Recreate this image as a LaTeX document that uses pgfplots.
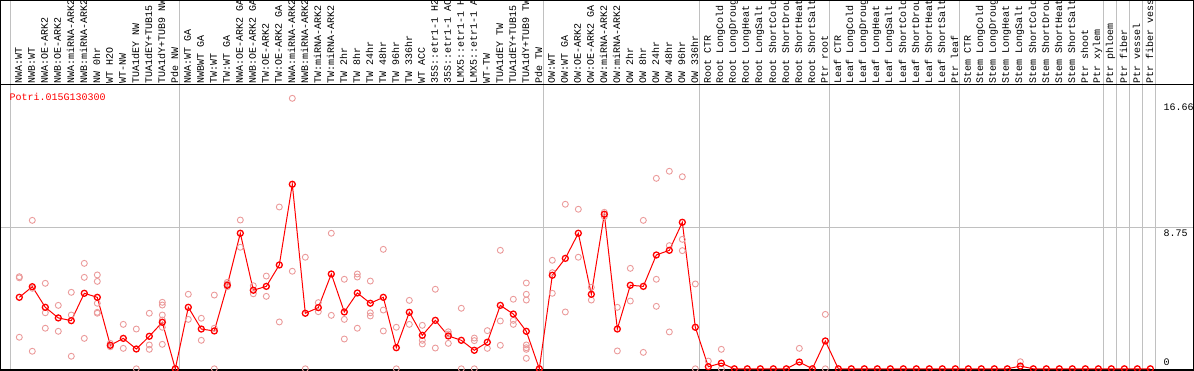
\documentclass[border=0pt]{standalone}
\usepackage{pgfplots}
\pgfplotsset{compat=1.18}
\usepackage{fontspec}
\setmainfont{Liberation Mono}
\definecolor{rep}{RGB}{235,155,155}
\definecolor{gridc}{RGB}{192,192,192}
\begin{document}
\fontsize{10pt}{12pt}\selectfont
\begin{tikzpicture}
\begin{axis}[
  at={(0,0)}, anchor=south west,
  scale only axis, width=1194pt, height=370pt,
  xmin=-0.4846, xmax=91.358, ymin=-0.0745, ymax=22.907,
  xtick={0.35,13.35,41.35,53.35,63.35,73.35,84.38,85.41,86.41,87.41,88.41},
  xticklabels={}, ytick={8.75}, yticklabels={},
  major tick length=0pt,
  xmajorgrids, ymajorgrids,
  major grid style={gridc, line width=1pt},
  axis line style={line width=2pt},
  clip=true,
]
% replicate samples
\addplot[only marks, mark=o, mark size=3pt, rep, mark options={line width=0.9pt}] coordinates {
(1,5.72)(1,5.65)(1,1.96)
(2,9.22)(2,1.09)(2,5.0)
(3,5.31)(3,3.48)(3,2.52)
(4,3.94)(4,2.33)
(5,4.75)(5,3.34)(5,0.78)
(6,6.55)(6,5.68)(6,1.89)
(7,5.83)(7,5.43)(7,4.07)(7,3.51)(7,3.45)
(8,1.58)(8,1.37)
(9,2.76)(9,1.27)
(10,2.47)(10,0)
(11,3.45)(11,1.48)(11,1.21)
(12,4.13)(12,3.96)(12,3.34)(12,3.03)(12,2.58)(12,1.52)
(13,0)
(14,4.63)(14,3.07)
(15,3.14)(15,1.77)
(16,4.58)(16,2.52)(16,0)
(17,5.37)(17,5.27)(17,5.10)
(18,9.24)(18,7.55)
(19,5.16)(19,4.66)
(20,5.76)(20,4.50)
(21,10.05)(21,2.91)
(22,16.80)(22,6.06)
(23,6.93)(23,0)
(24,4.11)(24,3.55)
(25,8.42)(25,3.32)
(26,5.56)(26,3.07)(26,1.85)
(27,5.89)(27,5.70)(27,2.52)
(28,5.45)(28,3.48)(28,3.28)
(29,7.42)(29,3.65)(29,2.35)
(30,2.58)(30,0)
(31,4.25)(31,2.76)
(32,2.70)(32,1.77)(32,1.54)
(33,4.94)(33,1.29)
(34,2.30)(34,2.16)(34,1.58)
(35,3.76)(35,0)
(36,1.91)(36,1.75)(36,0)
(37,2.37)(37,1.27)
(38,7.36)(38,2.97)(38,1.46)
(39,4.32)(39,3.01)(39,2.76)
(40,5.33)(40,4.63)(40,4.27)(40,1.48)(40,1.31)(40,1.21)(40,0.65)
(41,0)
(42,6.74)(42,5.97)(42,4.69)
(43,10.22)(43,3.53)
(44,9.91)(44,6.93)
(45,5.06)(45,4.27)
(46,9.72)(46,9.45)
(47,3.82)(47,1.11)
(48,6.24)(48,4.21)
(49,9.22)(49,1.02)
(50,11.83)(50,5.56)(50,3.88)
(51,12.27)(51,7.65)(51,2.29)
(52,11.93)(52,8.04)(52,7.34)
(53,5.27)(53,0)
(54,0.48)
(55,1.21)(55,0)
(61,1.27)
(63,3.38)(63,0)
(78,0.44)
};
% mean expression
\addplot[red, line width=1pt, mark=o, mark size=3pt, mark options={line width=1.3pt}] coordinates {
(1,4.44)(2,5.10)(3,3.82)(4,3.16)(5,2.99)(6,4.69)(7,4.44)(8,1.46)(9,1.89)(10,1.23)
(11,2.02)(12,2.89)(13,0)(14,3.82)(15,2.47)(16,2.35)(17,5.19)(18,8.42)(19,4.88)(20,5.12)
(21,6.45)(22,11.46)(23,3.45)(24,3.80)(25,5.89)(26,3.53)(27,4.71)(28,4.07)(29,4.44)(30,1.31)
(31,3.51)(32,2.08)(33,3.01)(34,2.04)(35,1.77)(36,1.15)(37,1.65)(38,3.94)(39,3.40)(40,2.33)
(41,0)(42,5.81)(43,6.86)(44,8.42)(45,4.63)(46,9.60)(47,2.47)(48,5.19)(49,5.12)(50,7.07)
(51,7.36)(52,9.10)(53,2.58)(54,0.13)(55,0.35)(56,0)(57,0)(58,0)(59,0)(60,0)
(61,0.42)(62,0)(63,1.73)(64,0)(65,0)(66,0)(67,0)(68,0)(69,0)(70,0)
(71,0)(72,0)(73,0)(74,0)(75,0)(76,0)(77,0)(78,0.17)(79,0)(80,0)
(81,0)(82,0)(83,0)(84,0)(85,0)(86,0)(87,0)(88,0)
};
\end{axis}
\draw[line width=1pt] (0,285pt) -- (1194pt,285pt);
\begin{scope}
\clip (0,0) rectangle (1194pt,370pt);
\foreach \lab [count=\i] in {
{NWA:WT},{NWB:WT},{NWA:OE-ARK2},{NWB:OE-ARK2},{NWA:miRNA-ARK2},{NWB:miRNA-ARK2},{NW 0hr},{WT H2O},{WT-NW},{TUA1dEY NW},{TUA1dEY+TUB15},{TUA1dY+TUB9 NW},{Pde NW},
{NWA:WT GA},{NWBWT GA},{TW:WT},{TW:WT GA},{NWA:OE-ARK2 GA},{NWB:OE-ARK2 GA},{TW:OE-ARK2},{TW:OE-ARK2 GA},{NWA:miRNA-ARK2},{NWB:miRNA-ARK2},{TW:miRNA-ARK2},{TW:miRNA-ARK2},
{TW 2hr},{TW 8hr},{TW 24hr},{TW 48hr},{TW 96hr},{TW 336hr},{WT ACC},{35S::etr1-1 H2},{35S::etr1-1 AC},{LMX5::etr1-1 H},{LMX5::etr1-1 A},{WT-TW},{TUA1dEY TW},{TUA1dEY+TUB15},{TUA1dY+TUB9 TW},{Pde TW},
{OW:WT},{OW:WT GA},{OW:OE-ARK2},{OW:OE-ARK2 GA},{OW:miRNA-ARK2},{OW:miRNA-ARK2},{OW 2hr},{OW 8hr},{OW 24hr},{OW 48hr},{OW 96hr},{OW 336hr},
{Root CTR},{Root LongCold},{Root LongDroug},{Root LongHeat},{Root LongSalt},{Root ShortCold},{Root ShortDrou},{Root ShortHeat},{Root ShortSalt},{Ptr root},
{Leaf CTR},{Leaf LongCold},{Leaf LongDroug},{Leaf LongHeat},{Leaf LongSalt},{Leaf ShortCold},{Leaf ShortDrou},{Leaf ShortHeat},{Leaf ShortSalt},{Ptr leaf},
{Stem CTR},{Stem LongCold},{Stem LongDroug},{Stem LongHeat},{Stem LongSalt},{Stem ShortCold},{Stem ShortDrou},{Stem ShortHeat},{Stem ShortSalt},
{Ptr shoot},{Ptr xylem},{Ptr phloem},{Ptr fiber},{Ptr vessel},{Ptr fiber vess}} {
  \node[rotate=90, anchor=west, inner sep=0pt] at ({18.6pt+13pt*(\i-1)}, 286pt) {\lab};
}
\end{scope}
\node[anchor=base west, inner sep=0pt, text=red] at (9.3pt,269.3pt) {Potri.015G130300};
\node[anchor=base west, inner sep=0pt] at (1163.3pt,259.2pt) {16.66};
\node[anchor=base west, inner sep=0pt] at (1163.3pt,133.8pt) {8.75};
\node[anchor=base west, inner sep=0pt] at (1163.3pt,4.2pt) {0};
\pgfresetboundingbox
\useasboundingbox (0,0) rectangle (1194pt,370pt);
\end{tikzpicture}
\end{document}
